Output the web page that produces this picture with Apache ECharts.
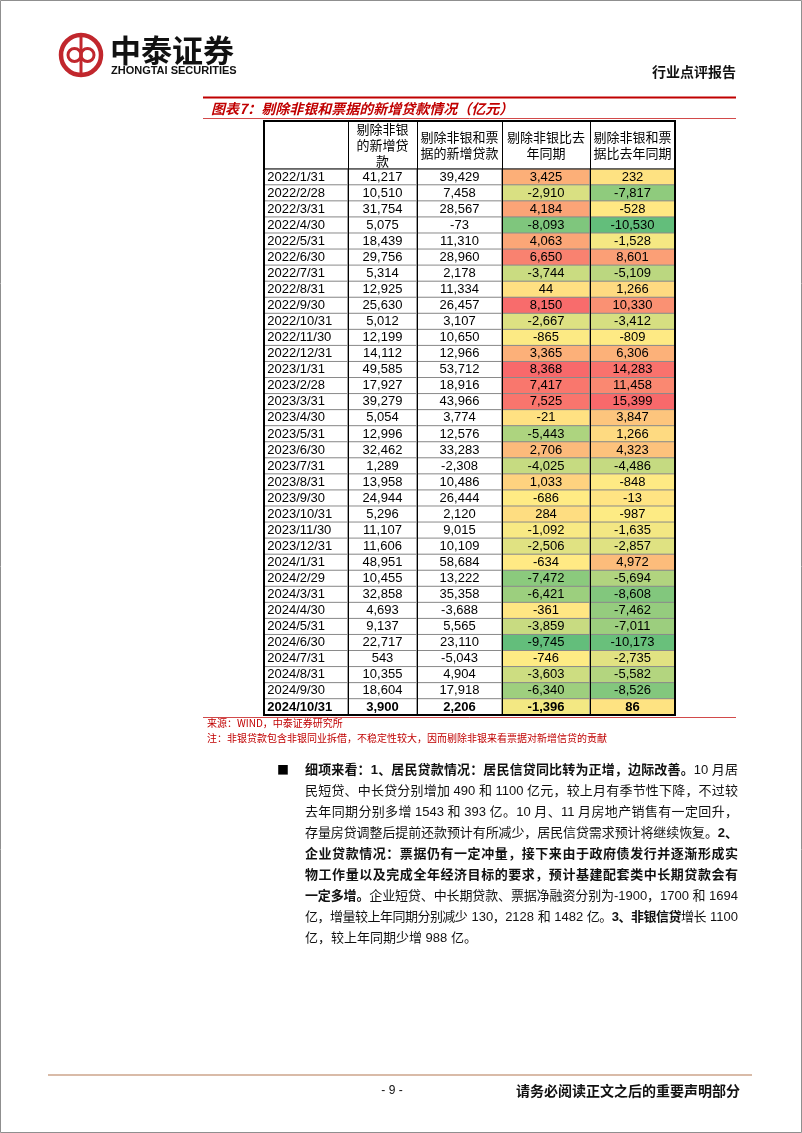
<!DOCTYPE html>
<html>
<head>
<meta charset="utf-8">
<script src="https://cdn.jsdelivr.net/npm/echarts@6/dist/echarts.min.js"></script>
<style>
  html, body { margin: 0; padding: 0; background: #fff; }
  #chart { width: 802px; height: 1133px; }
</style>
</head>
<body>
<div id="chart"></div>
<script>
// table rows
const dates = ['2022/1/31', '2022/2/28', '2022/3/31', '2022/4/30', '2022/5/31', '2022/6/30',
  '2022/7/31', '2022/8/31', '2022/9/30', '2022/10/31', '2022/11/30', '2022/12/31',
  '2023/1/31', '2023/2/28', '2023/3/31', '2023/4/30', '2023/5/31', '2023/6/30',
  '2023/7/31', '2023/8/31', '2023/9/30', '2023/10/31', '2023/11/30', '2023/12/31',
  '2024/1/31', '2024/2/29', '2024/3/31', '2024/4/30', '2024/5/31', '2024/6/30',
  '2024/7/31', '2024/8/31', '2024/9/30', '2024/10/31'];

// 剔除非银的新增贷款
const exNonBank = [41217, 10510, 31754, 5075, 18439, 29756, 5314, 12925, 25630, 5012, 12199, 14112,
  49585, 17927, 39279, 5054, 12996, 32462, 1289, 13958, 24944, 5296, 11107, 11606,
  48951, 10455, 32858, 4693, 9137, 22717, 543, 10355, 18604, 3900];
// 剔除非银和票据的新增贷款
const exNonBankBill = [39429, 7458, 28567, -73, 11310, 28960, 2178, 11334, 26457, 3107, 10650, 12966,
  53712, 18916, 43966, 3774, 12576, 33283, -2308, 10486, 26444, 2120, 9015, 10109,
  58684, 13222, 35358, -3688, 5565, 23110, -5043, 4904, 17918, 2206];
// 剔除非银比去年同期
const yoyNonBank = [3425, -2910, 4184, -8093, 4063, 6650, -3744, 44, 8150, -2667, -865, 3365,
  8368, 7417, 7525, -21, -5443, 2706, -4025, 1033, -686, 284, -1092, -2506,
  -634, -7472, -6421, -361, -3859, -9745, -746, -3603, -6340, -1396];
// 剔除非银和票据比去年同期
const yoyNonBankBill = [232, -7817, -528, -10530, -1528, 8601, -5109, 1266, 10330, -3412, -809, 6306,
  14283, 11458, 15399, 3847, 1266, 4323, -4486, -848, -13, -987, -1635, -2857,
  4972, -5694, -8608, -7462, -7011, -10173, -2735, -5582, -8526, 86];

const headers = ['', '剔除非银\n的新增贷\n款', '剔除非银和票\n据的新增贷款', '剔除非银比去\n年同期', '剔除非银和票\n据比去年同期'];

const paragraph = [
  '{b|细项来看：1、居民贷款情况：居民信贷同比转为正增，边际改善。}10 月居',
  '民短贷、中长贷分别增加 490 和 1100 亿元，较上月有季节性下降，不过较',
  '去年同期分别多增 1543 和 393 亿。10 月、11 月房地产销售有一定回升，',
  '存量房贷调整后提前还款预计有所减少，居民信贷需求预计将继续恢复。{b|2、}',
  '{b|企业贷款情况：票据仍有一定冲量，接下来由于政府债发行并逐渐形成实}',
  '{b|物工作量以及完成全年经济目标的要求，预计基建配套类中长期贷款会有}',
  '{b|一定多增。}企业短贷、中长期贷款、票据净融资分别为-1900，1700 和 1694',
  '亿，增量较上年同期分别减少 130，2128 和 1482 亿。{b|3、非银信贷}增长 1100',
  '亿，较上年同期少增 988 亿。'
];

const columns = [null, exNonBank, exNonBankBill, yoyNonBank, yoyNonBankBill];
const colX = [264, 348, 417, 502, 590, 675];
const tableTop = 121, bodyTop = 169, bodyBottom = 715;
const last = dates.length - 1;

const RED = '#C00000';
const NUM_FONT = '"Liberation Sans", Arial, "Noto Sans CJK SC", sans-serif';
const CJK_FONT = '"Noto Sans CJK SC", sans-serif';

// excel-like green / yellow / red scale, yellow sits on the median
const C_LO = [99, 190, 123], C_MID = [255, 235, 132], C_HI = [248, 105, 107];
function mix(a, b, t) {
  t = Math.max(0, Math.min(1, t));
  return 'rgb(' + a.map((v, i) => Math.round(v + (b[i] - v) * t)).join(',') + ')';
}
function scaleFor(values) {
  const s = values.slice().sort((a, b) => a - b);
  const n = s.length;
  const med = n % 2 ? s[(n - 1) / 2] : (s[n / 2 - 1] + s[n / 2]) / 2;
  const lo = s[0], hi = s[n - 1];
  const color = [];
  for (let k = 0; k <= 60; k++) {
    const v = lo + (hi - lo) * k / 60;
    color.push(v <= med ? mix(C_LO, C_MID, (v - lo) / (med - lo)) : mix(C_MID, C_HI, (v - med) / (hi - med)));
  }
  return {min: lo, max: hi, color};
}

const fmt = v => v.toLocaleString('en-US');
const boldIf = (r, txt) => r === last ? '{b|' + txt + '}' : txt;

const grids = [], xAxes = [], yAxes = [], series = [], visualMaps = [];
for (let i = 0; i < 5; i++) {
  grids.push({left: colX[i], width: colX[i + 1] - colX[i], top: bodyTop, height: bodyBottom - bodyTop});
  xAxes.push({
    gridIndex: i, type: 'category', data: [headers[i]], position: 'top',
    axisLine: {show: false}, axisTick: {show: false}, splitLine: {show: false},
    axisLabel: {
      interval: 0, margin: 24, verticalAlign: 'middle', lineHeight: 16,
      fontSize: 13, color: '#000', fontFamily: CJK_FONT
    }
  });
  yAxes.push({gridIndex: i, type: 'category', data: dates, inverse: true, show: false});

  const isDate = i === 0;
  series.push({
    type: 'heatmap',
    xAxisIndex: i, yAxisIndex: i,
    data: isDate ? dates.map((d, r) => [0, r, r]) : columns[i].map((v, r) => [0, r, v]),
    itemStyle: {color: '#fff', borderColor: '#8a8a8a', borderWidth: 1},
    emphasis: {disabled: true},
    label: {
      show: true,
      position: isDate ? 'insideLeft' : 'inside',
      distance: 4,
      color: '#000', fontSize: 13, fontFamily: NUM_FONT,
      formatter: p => isDate ? boldIf(p.dataIndex, dates[p.dataIndex]) : boldIf(p.dataIndex, fmt(p.value[2])),
      rich: {b: {fontWeight: 'bold', fontSize: 13, fontFamily: NUM_FONT, color: '#000'}}
    }
  });
  if (i >= 3) {
    const sc = scaleFor(columns[i]);
    visualMaps.push({
      type: 'continuous', show: false, seriesIndex: i, dimension: 2,
      min: sc.min, max: sc.max, inRange: {color: sc.color}
    });
  }
}

// page furniture and table frame
const LOGO = '#C1272D';
const graphic = [
  {type: 'rect', shape: {x: 0.5, y: 0.5, width: 801, height: 1132}, style: {fill: null, stroke: '#8f8f8f', lineWidth: 1}, z: 100},
  // logo
  {type: 'circle', shape: {cx: 81, cy: 55, r: 20}, style: {fill: null, stroke: LOGO, lineWidth: 4.5}, z: 100},
  {type: 'circle', shape: {cx: 74.5, cy: 55, r: 6.5}, style: {fill: null, stroke: LOGO, lineWidth: 3}, z: 100},
  {type: 'circle', shape: {cx: 87.5, cy: 55, r: 6.5}, style: {fill: null, stroke: LOGO, lineWidth: 3}, z: 100},
  {type: 'line', shape: {x1: 81, y1: 37, x2: 81, y2: 73}, style: {stroke: LOGO, lineWidth: 3}, z: 100},
  {type: 'text', x: 110, y: 50, style: {text: '中泰证券', fontSize: 31, fontWeight: 'bold', fontFamily: CJK_FONT, fill: '#111', verticalAlign: 'middle'}, z: 100},
  {type: 'text', x: 111, y: 71, style: {text: 'ZHONGTAI SECURITIES', fontSize: 11, fontWeight: 'bold', fontFamily: NUM_FONT, fill: '#111', verticalAlign: 'middle'}, z: 100},
  {type: 'text', x: 736, y: 72, style: {text: '行业点评报告', fontSize: 14, fontWeight: 'bold', fontFamily: CJK_FONT, fill: '#111', align: 'right', verticalAlign: 'middle'}, z: 100},
  // title block
  {type: 'line', shape: {x1: 203, y1: 97.5, x2: 736, y2: 97.5}, style: {stroke: RED, lineWidth: 2}, z: 100},
  {type: 'text', x: 211, y: 109, style: {text: '图表7：剔除非银和票据的新增贷款情况（亿元）', fontSize: 14, fontWeight: 'bold', fontStyle: 'italic', fontFamily: CJK_FONT, fill: RED, verticalAlign: 'middle'}, z: 100},
  {type: 'line', shape: {x1: 203, y1: 118.5, x2: 736, y2: 118.5}, style: {stroke: '#D24A4A', lineWidth: 1}, z: 100},
  // table frame
  {type: 'line', shape: {x1: colX[0], y1: bodyTop, x2: colX[5], y2: bodyTop}, style: {stroke: '#222', lineWidth: 1}, z: 100},
  {type: 'rect', shape: {x: colX[0], y: tableTop, width: colX[5] - colX[0], height: bodyBottom - tableTop}, style: {fill: null, stroke: '#000', lineWidth: 2}, z: 101},
  {type: 'line', shape: {x1: 203, y1: 717.5, x2: 736, y2: 717.5}, style: {stroke: '#D24A4A', lineWidth: 1}, z: 100},
  {type: 'text', x: 207, y: 723, style: {text: '来源：WIND，中泰证券研究所', fontSize: 10, fontFamily: CJK_FONT, fill: RED, verticalAlign: 'middle'}, z: 100},
  {type: 'text', x: 207, y: 738, style: {text: '注：非银贷款包含非银同业拆借，不稳定性较大，因而剔除非银来看票据对新增信贷的贡献', fontSize: 10, fontFamily: CJK_FONT, fill: RED, verticalAlign: 'middle'}, z: 100},
  // bullet
  {type: 'text', x: 277, y: 770, style: {text: '■', fontSize: 12, fontFamily: CJK_FONT, fill: '#000', verticalAlign: 'middle'}, z: 100},
  // footer
  {type: 'line', shape: {x1: 48, y1: 1075, x2: 752, y2: 1075}, style: {stroke: '#D9BBA8', lineWidth: 2}, z: 100},
  {type: 'text', x: 392, y: 1091, style: {text: '- 9 -', fontSize: 12, fontFamily: NUM_FONT, fill: '#111', align: 'center', verticalAlign: 'middle'}, z: 100},
  {type: 'text', x: 740, y: 1091, style: {text: '请务必阅读正文之后的重要声明部分', fontSize: 14, fontWeight: 'bold', fontFamily: CJK_FONT, fill: '#111', align: 'right', verticalAlign: 'middle'}, z: 100}
];
for (let k = 1; k < 5; k++) {
  graphic.push({type: 'line', shape: {x1: colX[k] + 0.5, y1: tableTop, x2: colX[k] + 0.5, y2: bodyBottom}, style: {stroke: '#000', lineWidth: 1}, z: 100});
}

// paragraph, justified between textLeft and textRight like the word doc
const P_SIZE = 13, P_FONT = '"Liberation Sans", "Noto Sans CJK SC", sans-serif';
const textLeft = 305, textRight = 738;
const ctx = document.createElement('canvas').getContext('2d');
function measure(t, bold) {
  ctx.font = (bold ? 'bold ' : 'normal ') + P_SIZE + 'px ' + P_FONT;
  return ctx.measureText(t).width;
}
paragraph.forEach((line, k) => {
  const units = [];
  line.replace(/\{b\|([^}]*)\}|([^{]+)/g, (m, b, n) => {
    const bold = b !== undefined;
    (bold ? b : n).match(/[A-Za-z0-9.\-]+| |./g).forEach(t => units.push({t, bold, w: measure(t, bold)}));
    return m;
  });
  const natural = units.reduce((s, u) => s + u.w, 0);
  let gaps = 0;
  for (let j = 0; j < units.length - 1; j++) {
    if (units[j].t !== ' ' && units[j + 1].t !== ' ') gaps++;
  }
  const extra = k < paragraph.length - 1 && gaps ? (textRight - textLeft - natural) / gaps : 0;
  let x = textLeft;
  units.forEach((u, j) => {
    if (u.t !== ' ') {
      graphic.push({
        type: 'text', x: x, y: 770 + k * 21,
        style: {text: u.t, fontSize: P_SIZE, fontFamily: P_FONT, fontWeight: u.bold ? 'bold' : 'normal', fill: '#111', verticalAlign: 'middle'},
        z: 100
      });
    }
    x += u.w;
    if (j < units.length - 1 && u.t !== ' ' && units[j + 1].t !== ' ') x += extra;
  });
});

const chart = echarts.init(document.getElementById('chart'), null, {renderer: 'canvas'});
chart.setOption({
  animation: false,
  backgroundColor: '#fff',
  grid: grids,
  xAxis: xAxes,
  yAxis: yAxes,
  visualMap: visualMaps,
  series: series,
  graphic: graphic
});
</script>
</body>
</html>
